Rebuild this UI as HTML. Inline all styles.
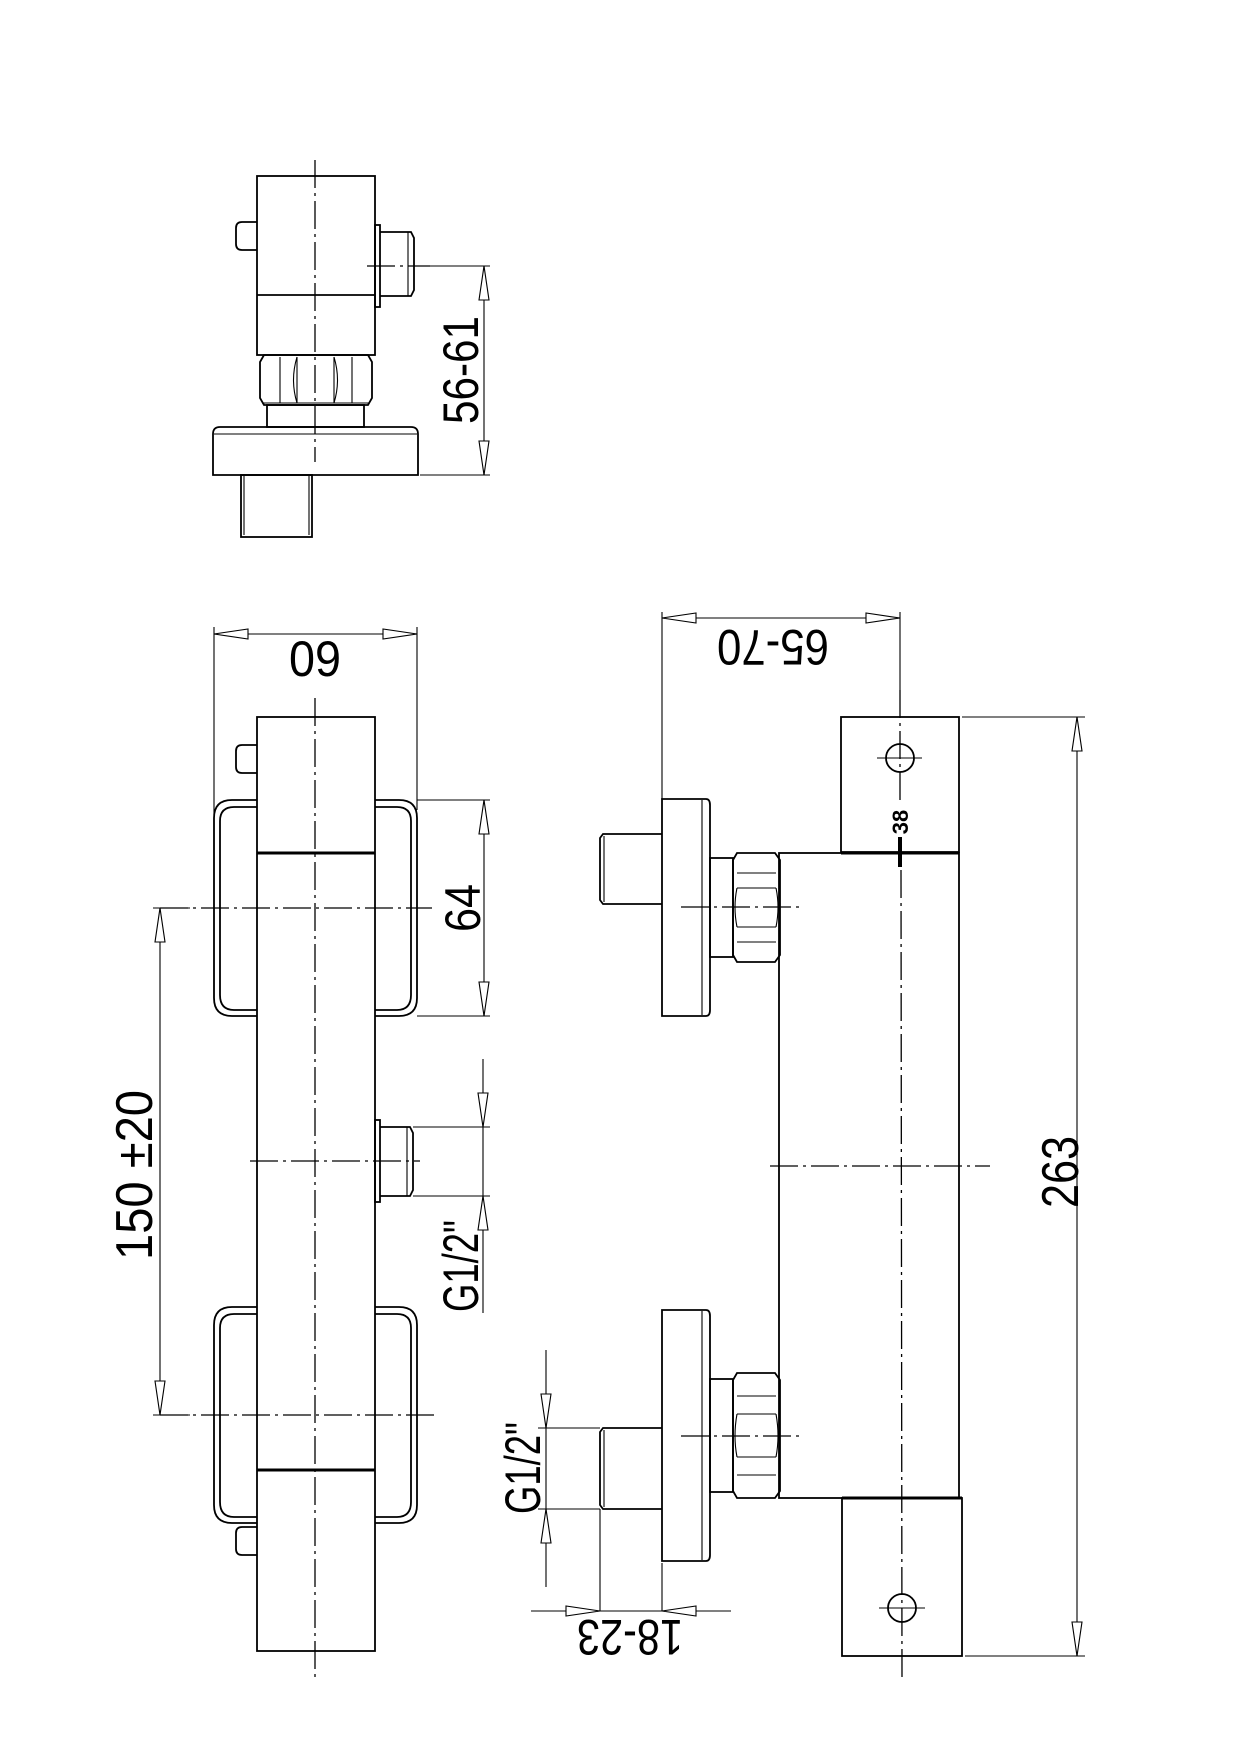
<!DOCTYPE html>
<html><head><meta charset="utf-8"><style>html,body{margin:0;padding:0;background:#fff}svg{display:block}</style></head>
<body>
<svg width="1240" height="1755" viewBox="0 0 1240 1755" xmlns="http://www.w3.org/2000/svg">
<defs>
<style>
.o{fill:none;stroke:#000;stroke-width:1.8}
.t{fill:none;stroke:#000;stroke-width:1.1}
.c{fill:none;stroke:#000;stroke-width:1.3;stroke-dasharray:28 5 3 5}
.a{fill:#fff;stroke:#000;stroke-width:1.1}
text{font-family:"Liberation Sans",sans-serif;fill:#000;font-weight:normal}
text.s{font-weight:bold}
</style>
</defs>

<!-- ===== TOP VIEW ===== -->
<rect class="o" x="257" y="176" width="118" height="179"/>
<line class="o" x1="257" y1="295" x2="375" y2="295"/>
<path class="o" d="M257 222 H242 Q236 222 236 228 V244 Q236 250 242 250 H257"/>
<rect class="o" x="375" y="225" width="5" height="82"/>
<path class="o" d="M380 232 H411 L414 238 V290 L411 296 H380"/>
<line class="t" x1="408" y1="232" x2="408" y2="296"/>
<path class="o" d="M264 355 H368 L372 362 V398 L368 405 H264 L260 398 V362 Z"/>
<line class="t" x1="280" y1="357" x2="280" y2="403"/>
<line class="t" x1="297" y1="357" x2="297" y2="403"/>
<line class="t" x1="334" y1="357" x2="334" y2="403"/>
<line class="t" x1="352" y1="357" x2="352" y2="403"/>
<path class="t" d="M297 357 Q290 380 297 403 M334 357 Q341 380 334 403"/>
<line class="t" x1="262" y1="403" x2="370" y2="403"/>
<rect class="o" x="267" y="405" width="97" height="22"/>
<path class="o" d="M213 475 V434 Q213 427 220 427 H411 Q418 427 418 434 V475 Z"/>
<line class="t" x1="214" y1="434" x2="417" y2="434"/>
<rect class="o" x="241" y="475" width="71" height="62"/>
<line class="t" x1="244" y1="476" x2="244" y2="535"/>
<line class="t" x1="309" y1="476" x2="309" y2="535"/>
<line class="c" x1="315" y1="160" x2="315" y2="462"/>
<line class="c" x1="367" y1="266" x2="430" y2="266"/>
<line class="t" x1="430" y1="266" x2="490" y2="266"/>
<line class="t" x1="420" y1="475" x2="490" y2="475"/>
<line class="t" x1="484" y1="266" x2="484" y2="475"/>
<polygon class="a" points="484,266 479,300 489,300"/>
<polygon class="a" points="484,475 479,441 489,441"/>
<text transform="translate(478,370) rotate(-90)" font-size="50" text-anchor="middle" textLength="108" lengthAdjust="spacingAndGlyphs">56-61</text>

<!-- ===== FRONT VIEW ===== -->
<line class="t" x1="214" y1="627" x2="214" y2="815"/>
<line class="t" x1="417" y1="627" x2="417" y2="810"/>
<line class="t" x1="214" y1="634" x2="417" y2="634"/>
<polygon class="a" points="214,634 248,629 248,639"/>
<polygon class="a" points="417,634 383,629 383,639"/>
<text x="315" y="676" font-size="50" text-anchor="middle" textLength="52" lengthAdjust="spacingAndGlyphs">09</text>

<rect class="o" x="257" y="717" width="118" height="934"/>
<line class="o" x1="257" y1="853" x2="375" y2="853" style="stroke-width:3"/>
<line class="o" x1="257" y1="1470" x2="375" y2="1470" style="stroke-width:3"/>
<path class="o" d="M257 745 H242 Q236 745 236 751 V767 Q236 773 242 773 H257"/>
<path class="o" d="M257 1527 H242 Q236 1527 236 1533 V1549 Q236 1555 242 1555 H257"/>
<path class="o" d="M257 800 H232 Q214 800 214 818 V998 Q214 1016 232 1016 H257"/>
<path class="o" d="M257 807 H234 Q220 807 220 821 V995 Q220 1010 234 1010 H257"/>
<path class="o" d="M375 800 H399 Q417 800 417 818 V998 Q417 1016 399 1016 H375"/>
<path class="o" d="M375 807 H397 Q411 807 411 821 V995 Q411 1010 397 1010 H375"/>
<path class="o" d="M257 1307 H232 Q214 1307 214 1325 V1505 Q214 1523 232 1523 H257"/>
<path class="o" d="M257 1314 H234 Q220 1314 220 1328 V1502 Q220 1517 234 1517 H257"/>
<path class="o" d="M375 1307 H399 Q417 1307 417 1325 V1505 Q417 1523 399 1523 H375"/>
<path class="o" d="M375 1314 H397 Q411 1314 411 1328 V1502 Q411 1517 397 1517 H375"/>
<rect class="o" x="375" y="1120" width="5" height="82"/>
<path class="o" d="M380 1127 H410 L413 1133 V1190 L410 1196 H380"/>
<line class="t" x1="407" y1="1127" x2="407" y2="1196"/>
<line class="c" x1="315" y1="698" x2="315" y2="1680"/>
<line class="c" x1="160" y1="908" x2="432" y2="908"/>
<line class="c" x1="250" y1="1161" x2="420" y2="1161"/>
<line class="c" x1="160" y1="1415" x2="436" y2="1415"/>
<line class="t" x1="153" y1="908" x2="190" y2="908"/>
<line class="t" x1="153" y1="1415" x2="190" y2="1415"/>
<line class="t" x1="417" y1="800" x2="490" y2="800"/>
<line class="t" x1="417" y1="1016" x2="490" y2="1016"/>
<line class="t" x1="484" y1="800" x2="484" y2="1016"/>
<polygon class="a" points="484,800 479,834 489,834"/>
<polygon class="a" points="484,1016 479,982 489,982"/>
<text transform="translate(480,908) rotate(-90)" font-size="50" text-anchor="middle" textLength="48" lengthAdjust="spacingAndGlyphs">64</text>
<line class="t" x1="413" y1="1127" x2="490" y2="1127"/>
<line class="t" x1="413" y1="1196" x2="490" y2="1196"/>
<line class="t" x1="483" y1="1059" x2="483" y2="1313"/>
<polygon class="a" points="483,1127 478,1093 488,1093"/>
<polygon class="a" points="483,1196 478,1230 488,1230"/>
<text transform="translate(478,1266) rotate(-90)" font-size="50" text-anchor="middle" textLength="92" lengthAdjust="spacingAndGlyphs">G1/2"</text>
<line class="t" x1="160" y1="908" x2="160" y2="1415"/>
<polygon class="a" points="160,908 155,942 165,942"/>
<polygon class="a" points="160,1415 155,1381 165,1381"/>
<text transform="translate(152,1175) rotate(-90)" font-size="52" text-anchor="middle" textLength="170" lengthAdjust="spacingAndGlyphs">150 ±20</text>

<!-- ===== SIDE VIEW ===== -->
<line class="t" x1="662" y1="612" x2="662" y2="800"/>
<line class="t" x1="900" y1="612" x2="900" y2="690"/>
<line class="t" x1="662" y1="618" x2="900" y2="618"/>
<polygon class="a" points="662,618 696,613 696,623"/>
<polygon class="a" points="900,618 866,613 866,623"/>
<text transform="translate(773,630) rotate(180)" font-size="50" text-anchor="middle" textLength="112" lengthAdjust="spacingAndGlyphs">65-70</text>

<rect class="o" x="841" y="717" width="118" height="135"/>
<rect class="o" x="779" y="853" width="180" height="645"/>
<line class="o" x1="841" y1="853" x2="959" y2="853" style="stroke-width:3"/>
<rect class="o" x="842" y="1498" width="120" height="158"/>
<line class="o" x1="842" y1="1498" x2="962" y2="1498" style="stroke-width:3"/>
<circle class="o" cx="900" cy="758" r="14"/>
<line class="t" x1="877" y1="758" x2="922" y2="758"/>
<circle class="o" cx="902" cy="1608" r="14"/>
<line class="t" x1="879" y1="1608" x2="925" y2="1608"/>
<line class="c" x1="900" y1="690" x2="900" y2="805"/>
<line x1="900" y1="837" x2="900" y2="867" stroke="#000" stroke-width="4"/>
<line class="c" x1="901" y1="870" x2="902" y2="1680"/>
<text class="s" transform="translate(908,822) rotate(-90)" font-size="22" text-anchor="middle">38</text>
<line class="c" x1="770" y1="1166" x2="990" y2="1166"/>

<path class="o" d="M662 799 H706 Q710 799 710 805 V1010 Q710 1016 706 1016 H662 Z"/>
<line class="t" x1="702" y1="800" x2="702" y2="1015"/>
<rect class="o" x="710" y="858" width="23" height="99"/>
<path class="o" d="M737 853 H775 L780 860 V955 L775 962 H737 L733 955 V860 Z"/>
<line class="t" x1="737" y1="873" x2="776" y2="873"/>
<line class="t" x1="737" y1="888" x2="776" y2="888"/>
<line class="t" x1="737" y1="927" x2="776" y2="927"/>
<line class="t" x1="737" y1="942" x2="776" y2="942"/>
<path class="t" d="M737 888 Q733 907 737 927 M776 888 Q780 907 776 927"/>
<path class="o" d="M662 834 H603 L600 838 V900 L603 904 H662"/>
<line class="t" x1="604" y1="836" x2="604" y2="902"/>
<line class="c" x1="681" y1="907" x2="803" y2="907"/>

<path class="o" d="M662 1310 H706 Q710 1310 710 1316 V1555 Q710 1561 706 1561 H662 Z"/>
<line class="t" x1="702" y1="1311" x2="702" y2="1560"/>
<rect class="o" x="710" y="1379" width="23" height="113"/>
<path class="o" d="M737 1373 H775 L780 1380 V1491 L775 1498 H737 L733 1491 V1380 Z"/>
<line class="t" x1="737" y1="1396" x2="776" y2="1396"/>
<line class="t" x1="737" y1="1414" x2="776" y2="1414"/>
<line class="t" x1="737" y1="1457" x2="776" y2="1457"/>
<line class="t" x1="737" y1="1475" x2="776" y2="1475"/>
<path class="t" d="M737 1414 Q733 1436 737 1457 M776 1414 Q780 1436 776 1457"/>
<path class="o" d="M662 1428 H603 L600 1432 V1505 L603 1509 H662"/>
<line class="t" x1="604" y1="1430" x2="604" y2="1507"/>
<line class="c" x1="681" y1="1436" x2="804" y2="1436"/>

<line class="t" x1="962" y1="717" x2="1085" y2="717"/>
<line class="t" x1="965" y1="1656" x2="1085" y2="1656"/>
<line class="t" x1="1077" y1="717" x2="1077" y2="1656"/>
<polygon class="a" points="1077,717 1072,751 1082,751"/>
<polygon class="a" points="1077,1656 1072,1622 1082,1622"/>
<text transform="translate(1078,1172) rotate(-90)" font-size="52" text-anchor="middle" textLength="72" lengthAdjust="spacingAndGlyphs">263</text>

<line class="t" x1="538" y1="1428" x2="600" y2="1428"/>
<line class="t" x1="538" y1="1509" x2="600" y2="1509"/>
<line class="t" x1="546" y1="1350" x2="546" y2="1587"/>
<polygon class="a" points="546,1428 541,1394 551,1394"/>
<polygon class="a" points="546,1509 541,1543 551,1543"/>
<text transform="translate(540,1468) rotate(-90)" font-size="50" text-anchor="middle" textLength="92" lengthAdjust="spacingAndGlyphs">G1/2"</text>

<line class="t" x1="600" y1="1509" x2="600" y2="1611"/>
<line class="t" x1="662" y1="1563" x2="662" y2="1611"/>
<line class="t" x1="531" y1="1611" x2="731" y2="1611"/>
<polygon class="a" points="600,1611 566,1606 566,1616"/>
<polygon class="a" points="662,1611 696,1606 696,1616"/>
<text transform="translate(630,1620) rotate(180)" font-size="50" text-anchor="middle" textLength="106" lengthAdjust="spacingAndGlyphs">18-23</text>
</svg>
</body></html>
